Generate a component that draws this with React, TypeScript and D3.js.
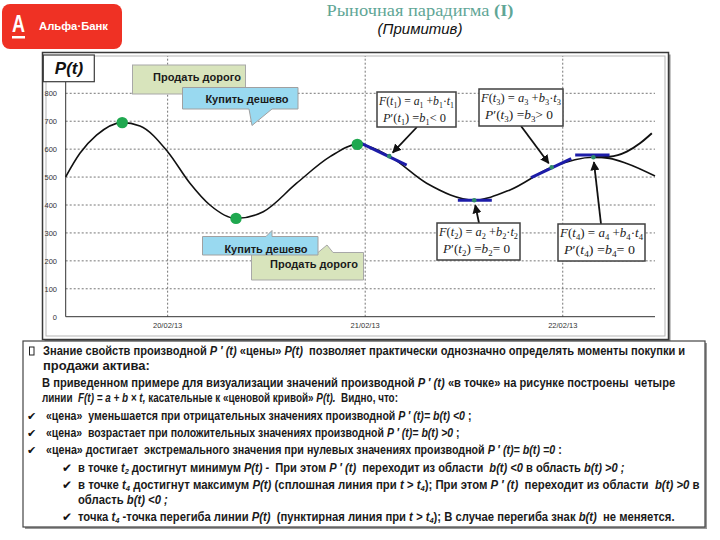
import React, { useLayoutEffect, useRef } from "react";
import * as d3 from "d3";

// ---------- data ----------
const tickDays = [0, 1, 2];
const tickLabels = ["20/02/13", "21/02/13", "22/02/13"];
const yTicks = [0, 100, 200, 300, 400, 500, 600, 700, 800];

// price curve P(t): t in days from 20/02/13
const priceT = [-0.516, -0.444, -0.36, -0.23, -0.14, 0, 0.113, 0.214, 0.346, 0.484, 0.653, 0.822, 0.96, 1.122, 1.311, 1.552, 1.733, 1.944, 2.155, 2.236, 2.324, 2.467];
const priceV = [501, 585, 650, 695, 683, 591, 478, 400, 352, 376, 478, 573, 617, 575, 478, 418, 454, 535, 571, 567, 549, 504];
// inflection branch after t4
const inflT = [2.155, 2.236, 2.324, 2.391, 2.451];
const inflV = [571, 573, 591, 621, 657];

const extremaT = [-0.23, 0.346, 0.96];
const extremaV = [695, 352, 617];

const tangentT = [1.122, 1.552, 1.944, 2.155];
const tangentV = [575, 417, 535, 571];
const tangentFromT = [0.97, 1.469, 1.84, 2.063];
const tangentFromV = [624, 417, 498, 579];
const tangentToT = [1.21, 1.641, 2.043, 2.237];
const tangentToV = [543, 417, 566, 579];

const formulaL1 = ["F(t_1) = a_1 +b_1·t_1", "F(t_2) = a_2 +b_2·t_2", "F(t_3) = a_3 +b_3·t_3", "F(t_4) = a_4 +b_4·t_4"];
const formulaL2 = ["P′(t_1) =b_1< 0", "P′(t_2) =b_2= 0", "P′(t_3) =b_3> 0", "P′(t_4) =b_4= 0"];

type Seg = [string, string?];
const bodyLines: Seg[][] = [
  [["Знание свойств производной "], ["P ′ (t)", "i"], [" «цены» "], ["P(t)", "i"], ["  позволяет практически однозначно определять моменты покупки и"]],
  [["продажи актива:"]],
  [["В приведенном примере для визуализации значений производной "], ["P ′ (t)", "i"], [" «в точке» на рисунке построены  четыре"]],
  [["линии  "], ["F(t) = a + b × t,", "i"], [" касательные к «ценовой кривой» "], ["P(t).", "i"], ["  Видно, что:"]],
  [["«цена»  уменьшается при отрицательных значениях производной "], ["P ′ (t)= b(t) <0", "i"], [" ;"]],
  [["«цена»  возрастает при положительных значениях производной "], ["P ′ (t)= b(t) >0", "i"], [" ;"]],
  [["«цена» достигает  экстремального значения при нулевых значениях производной "], ["P ′ (t)= b(t) =0", "i"], [" :"]],
  [["в точке "], ["t", "i"], ["2", "sub"], [" достигнут минимум "], ["P(t) -", "i"], ["  При этом "], ["P ′ (t)", "i"], ["  переходит из области  "], ["b(t) <0", "i"], [" в область "], ["b(t) >0 ;", "i"]],
  [["в точке "], ["t", "i"], ["4", "sub"], [" достигнут максимум "], ["P(t)", "i"], [" (сплошная линия при "], ["t > t", "i"], ["4", "sub"], ["); При этом "], ["P ′ (t)", "i"], ["  переходит из области  "], ["b(t) >0", "i"], [" в"]],
  [["область "], ["b(t) <0 ;", "i"]],
  [["точка "], ["t", "i"], ["4", "sub"], [" -точка перегиба линии "], ["P(t)", "i"], ["  (пунктирная линия при "], ["t > t", "i"], ["4", "sub"], ["); В случае перегиба знак "], ["b(t)", "i"], ["  не меняется."]],
];
const bodyBullets = ["box", "", "", "", "check", "check", "check", "check2", "check2", "", "check2"];
const bodyIndent = [43, 43, 42, 42, 46, 46, 46, 78, 78, 78, 78];
const bodyEnd = [686, 150, 676, 398, 472, 460, 562, 625, 700, 168, 675];
const bodyY = [355, 370, 387, 402, 420, 437, 454, 472, 489, 504, 521];

// ---------- layout ----------
const W = 720, H = 540;
const x = d3.scaleLinear().domain([-0.516, 2.467]).range([65.7, 655]);
const y = d3.scaleLinear().domain([0, 800]).range([316.7, 93.3]);
const plotTop = 56;

const boxes = [
  { x: 377, y: 92, w: 79, h: 35, ax: 417, ay: 127 },
  { x: 437, y: 223, w: 83, h: 37, ax: 479, ay: 223 },
  { x: 479, y: 89, w: 84, h: 37, ax: 521, ay: 126 },
  { x: 558, y: 224, w: 87, h: 37, ax: 601, ay: 224 },
];

function Formula({ s, x0, y0, len }: { s: string; x0: number; y0: number; len: number }) {
  const parts: { t: string; sub: boolean }[] = [];
  for (let i = 0; i < s.length; i++) {
    if (s[i] === "_") { parts.push({ t: s[i + 1], sub: true }); i++; }
    else parts.push({ t: s[i], sub: false });
  }
  let shift = 0;
  return (
    <text x={x0} y={y0} fontFamily="Liberation Serif, Times New Roman, serif" fontSize={13.5} fill="#222" textLength={len} lengthAdjust="spacingAndGlyphs">
      {parts.map((p, i) => {
        const target = p.sub ? 3 : 0;
        const dy = target - shift;
        shift = target;
        const italic = /[a-zA-Z]/.test(p.t);
        return (
          <tspan key={i} dy={dy} fontSize={p.sub ? 9 : 13.5} fontStyle={italic ? "italic" : "normal"}>{p.t}</tspan>
        );
      })}
    </text>
  );
}

function BodyLine({ segs, x0, y0 }: { segs: Seg[]; x0: number; y0: number }) {
  let shift = 0;
  return (
    <text className="body" x={x0} y={y0} fontFamily="Liberation Sans, Arial, sans-serif" fontWeight="bold" fontSize={12} fill="#1a1a1a" style={{ whiteSpace: "pre" }}>
      {segs.map((sg, i) => {
        const sub = sg[1] === "sub";
        const target = sub ? 2.5 : 0;
        const dy = target - shift;
        shift = target;
        return (
          <tspan key={i} dy={dy} fontSize={sub ? 8 : 12} fontStyle={sg[1] === "i" || sub ? "italic" : "normal"}>{sg[0]}</tspan>
        );
      })}
    </text>
  );
}

export default function App() {
  const bodyRef = useRef<SVGGElement>(null);
  useLayoutEffect(() => {
    const g = bodyRef.current;
    if (!g) return;
    const texts = g.querySelectorAll("text.body");
    texts.forEach((t, i) => {
      const el = t as SVGTextElement;
      const w = el.getComputedTextLength();
      if (!w) return;
      const s = (bodyEnd[i] - bodyIndent[i]) / w;
      const x0 = bodyIndent[i];
      el.setAttribute("transform", `translate(${x0},0) scale(${s},1) translate(${-x0},0)`);
    });
  }, []);

  const line = d3.line<number>().x((_, i) => x(priceT[i])).y((v) => y(v)).curve(d3.curveMonotoneX);
  const line2 = d3.line<number>().x((_, i) => x(inflT[i])).y((v) => y(v)).curve(d3.curveMonotoneX);
  const tFont = "Liberation Sans, Arial, sans-serif";

  return (
    <svg width={W} height={H} style={{ position: "absolute", left: 0, top: 0, background: "#fff" }}>
      <defs>
        <marker id="arr" viewBox="0 0 10 10" refX="9" refY="5" markerWidth="5" markerHeight="5" orient="auto">
          <path d="M0,0 L10,5 L0,10 z" fill="#111" />
        </marker>
      </defs>
      {/* logo */}
      <rect x={2} y={4} width={120} height={45} rx={8} fill="#ef3124" />
      <text x={18.5} y={32} textAnchor="middle" fontFamily={tFont} fontWeight="bold" fontSize={24} fill="#fff" textLength={13} lengthAdjust="spacingAndGlyphs">А</text>
      <rect x={12} y={36} width={13} height={2.5} fill="#fff" />
      <text x={39} y={30} fontFamily={tFont} fontWeight="bold" fontSize={10.5} fill="#fff" textLength={69} lengthAdjust="spacingAndGlyphs">Альфа·Банк</text>
      {/* title */}
      <text x={420} y={16} textAnchor="middle" fontFamily="Liberation Serif, Times New Roman, serif" fontSize={17.5} fill="#5fa696" textLength={187} lengthAdjust="spacingAndGlyphs">
        Рыночная парадигма <tspan fontWeight="bold">(I)</tspan>
      </text>
      <text x={420} y={34} textAnchor="middle" fontFamily={tFont} fontStyle="italic" fontSize={15} fill="#111">(Примитив)</text>

      {/* chart frame */}
      <rect x={44.5} y={54.5} width={626} height={287} fill="#8c8c8c" />
      <rect x={42.5} y={52.5} width={626} height={287} fill="#fff" stroke="#3a3a3a" strokeWidth={1.5} />
      <rect x={46} y={56} width={619} height={280} fill="none" stroke="#b5b5b5" strokeWidth={1} />

      {/* gridlines */}
      {yTicks.filter((v) => v > 0).map((v) => (
        <line key={"h" + v} x1={x.range()[0]} x2={x.range()[1]} y1={y(v)} y2={y(v)} stroke="#666" strokeWidth={0.9} strokeDasharray="2,2" />
      ))}
      {tickDays.map((d) => (
        <line key={"v" + d} x1={x(d)} x2={x(d)} y1={y(0)} y2={plotTop} stroke="#666" strokeWidth={0.9} strokeDasharray="2,2" />
      ))}
      {/* axes */}
      <line x1={x.range()[0]} x2={x.range()[0]} y1={y(0)} y2={plotTop + 26} stroke="#333" strokeWidth={1} />
      <line x1={x.range()[0]} x2={x.range()[1]} y1={y(0)} y2={y(0)} stroke="#333" strokeWidth={1} />
      {yTicks.map((v) => (
        <text key={"yl" + v} x={57} y={y(v) + 3} textAnchor="end" fontFamily={tFont} fontSize={7.5} fill="#333">{v}</text>
      ))}
      {tickDays.map((d, i) => (
        <text key={"xl" + d} x={x(d)} y={328} textAnchor="middle" fontFamily={tFont} fontSize={7.5} fill="#333">{tickLabels[i]}</text>
      ))}

      {/* P(t) label */}
      <rect x={43.3} y={55} width={51} height={26.7} fill="#fff" stroke="#3a3a3a" strokeWidth={1.2} />
      <text x={69} y={74} textAnchor="middle" fontFamily={tFont} fontWeight="bold" fontStyle="italic" fontSize={17} fill="#111">P(t)</text>

      {/* curves */}
      <path d={line(priceV) || ""} fill="none" stroke="#111" strokeWidth={1.6} />
      <path d={line2(inflV) || ""} fill="none" stroke="#111" strokeWidth={1.9} />

      {/* tangents */}
      {tangentT.map((t, i) => (
        <g key={"tg" + i}>
          <line x1={x(tangentFromT[i])} y1={y(tangentFromV[i])} x2={x(tangentToT[i])} y2={y(tangentToV[i])} stroke="#1c1ca8" strokeWidth={3} />
          <circle cx={x(t)} cy={y(tangentV[i])} r={2.3} fill="#2e8b6a" />
        </g>
      ))}
      {/* extrema */}
      {extremaT.map((t, i) => (
        <circle key={"ex" + i} cx={x(t)} cy={y(extremaV[i])} r={5.7} fill="#1fa84f" />
      ))}

      {/* callouts top */}
      <rect x={132.5} y={65} width={113} height={29} fill="#d8e4bc" stroke="#a8a8a8" strokeWidth={1} />
      <text x={197} y={80.5} textAnchor="middle" fontFamily={tFont} fontWeight="bold" fontSize={11} fill="#1a1a1a">Продать дорого</text>
      <path d="M182.5,87.5 H298 V109 H272 L252,125.5 L249,109 H182.5 Z" fill="#99d9f0" stroke="#a0a0a0" strokeWidth={1} />
      <text x={247} y={103} textAnchor="middle" fontFamily={tFont} fontWeight="bold" fontSize={11} fill="#1a1a1a">Купить дешево</text>

      {/* callouts bottom */}
      <path d="M251.5,252.5 H318 L327,245 L333,252.5 H363.5 V280 H251.5 Z" fill="#d8e4bc" stroke="#a8a8a8" strokeWidth={1} />
      <path d="M202.5,236.5 H266 L272,230.5 L272,236.5 H318 V255 H202.5 Z" fill="#99d9f0" stroke="#a0a0a0" strokeWidth={1} />
      <text x={266} y={252.5} textAnchor="middle" fontFamily={tFont} fontWeight="bold" fontSize={11} fill="#1a1a1a">Купить дешево</text>
      <text x={314} y={268} textAnchor="middle" fontFamily={tFont} fontWeight="bold" fontSize={11} fill="#1a1a1a">Продать дорого</text>

      {/* formula boxes + arrows */}
      {boxes.map((b, i) => {
        const px = x(tangentT[i]);
        const py = y(tangentV[i]);
        const dx = b.ax - px, dy = b.ay - py;
        const dd = Math.hypot(dx, dy);
        const ex = px + (dx / dd) * 5, ey = py + (dy / dd) * 5;
        return (
          <g key={"fb" + i}>
            <line x1={b.ax} y1={b.ay} x2={ex} y2={ey} stroke="#111" strokeWidth={1.8} markerEnd="url(#arr)" />
            <rect x={b.x} y={b.y} width={b.w} height={b.h} fill="#fff" stroke="#404040" strokeWidth={1.5} />
            <Formula s={formulaL1[i]} x0={b.x + 2} y0={b.y + 13} len={b.w - 4} />
            <Formula s={formulaL2[i]} x0={b.x + 6} y0={b.y + 30} len={b.w - 16} />
          </g>
        );
      })}

      {/* text box */}
      <rect x={25} y={343} width={682} height={186} fill="#999" />
      <rect x={23} y={341} width={682} height={186} fill="#fff" stroke="#444" strokeWidth={1.2} />
      {bodyLines.map((segs, i) => (
        <g key={"bb" + i}>
          {bodyBullets[i] === "box" && <rect x={29.5} y={bodyY[i] - 8} width={4.5} height={8} fill="none" stroke="#222" strokeWidth={1} />}
          {bodyBullets[i] === "check" && <text x={27} y={bodyY[i]} fontFamily="DejaVu Sans" fontSize={11} fill="#111">✔</text>}
          {bodyBullets[i] === "check2" && <text x={62} y={bodyY[i]} fontFamily="DejaVu Sans" fontSize={12} fill="#111">✔</text>}
        </g>
      ))}
      <g ref={bodyRef}>
        {bodyLines.map((segs, i) => (
          <BodyLine key={"bl" + i} segs={segs} x0={bodyIndent[i]} y0={bodyY[i]} />
        ))}
      </g>
    </svg>
  );
}
